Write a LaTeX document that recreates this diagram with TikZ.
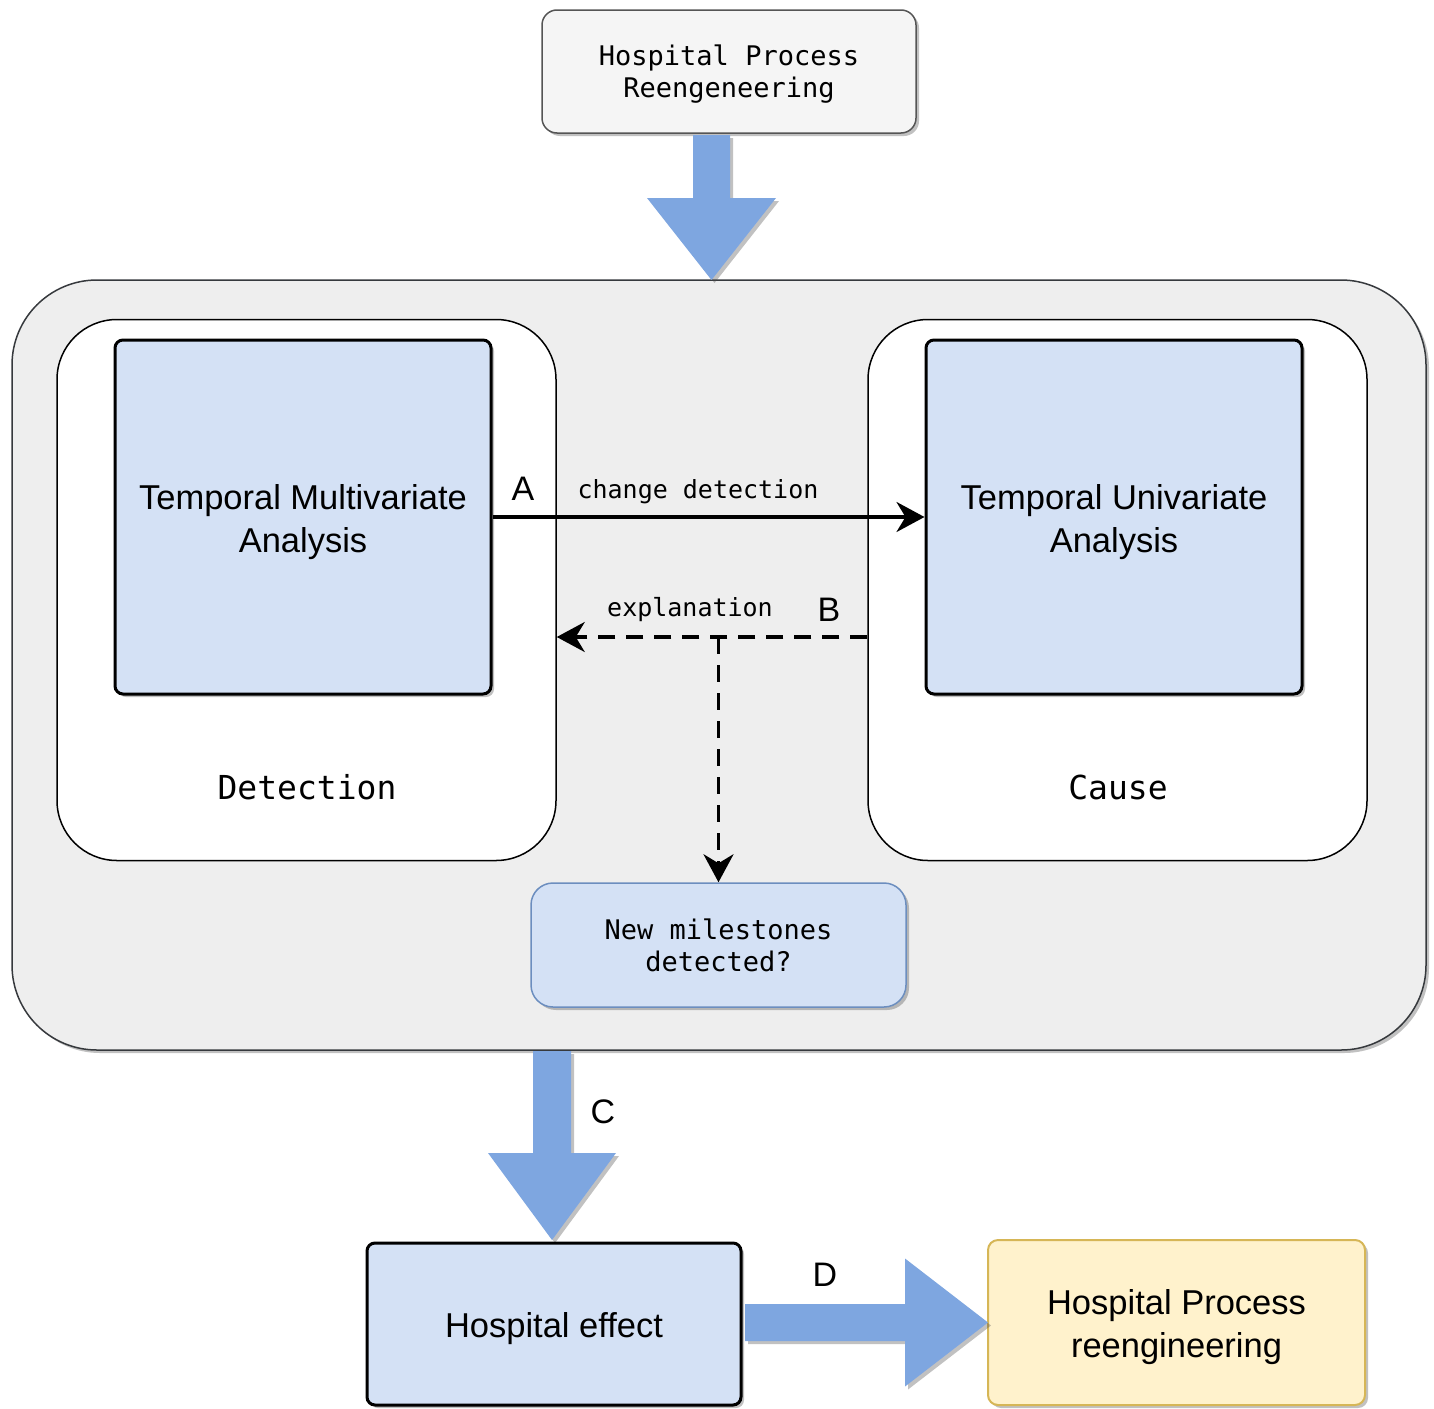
\documentclass[tikz,border=0pt]{standalone}
\usepackage{fontspec}
\setmainfont{Liberation Sans}
\newfontfamily\monof{DejaVu Sans Mono}
\usetikzlibrary{arrows.meta,shadows,calc}
\definecolor{bluefill}{HTML}{D4E1F5}
\definecolor{arrowblue}{HTML}{7EA6E0}
\definecolor{outerfill}{HTML}{EEEEEE}
\definecolor{outerline}{HTML}{36393D}
\definecolor{topfill}{HTML}{F5F5F5}
\definecolor{topline}{HTML}{555555}
\definecolor{nmborder}{HTML}{6C8EBF}
\definecolor{yfill}{HTML}{FFF2CC}
\definecolor{yborder}{HTML}{D6B656}
\begin{document}
\begin{tikzpicture}[x=1pt,y=-1pt,
  shad/.style={drop shadow={shadow xshift=3pt,shadow yshift=-3pt,opacity=0.35,fill=black!70}},
  bigtext/.style={font=\fontsize{34.5}{43}\selectfont,align=center,inner sep=0pt},
  montext/.style={font=\monof\fontsize{27}{32}\selectfont,align=center},
  lab/.style={font=\fontsize{34}{40}\selectfont,inner sep=0pt},
  smallmono/.style={font=\monof\fontsize{25}{30}\selectfont,inner sep=0pt},
  bluebox/.style={draw=black,line width=3pt,fill=bluefill,rounded corners=8pt,shad,inner sep=0pt},
  inbox/.style={draw=black,line width=1.5pt,fill=white,rounded corners=60pt,inner sep=0pt},
  blockarrow/.style={fill=arrowblue,draw=none,shad},
  flow/.style={line width=3.5pt,-{Stealth[length=28pt,width=30pt,inset=9pt]}},
  dflow/.style={line width=3.5pt,dash pattern=on 17pt off 11pt,-{Stealth[length=28pt,width=30pt,inset=9pt]}}
]
\useasboundingbox (0,0) rectangle (1434,1408);

% top box
\node[draw=topline,line width=1.5pt,fill=topfill,rounded corners=15pt,shad,
      minimum width=374pt,minimum height=123pt,inner sep=0pt,
      label={[montext,yshift=-3pt]center:{Hospital Process\\Reengeneering}}]
      (top) at (729,71.5) {};

% outer container
\node[draw=outerline,line width=1.5pt,fill=outerfill,rounded corners=85pt,shad,
      minimum width=1414pt,minimum height=770pt,inner sep=0pt] (outer) at (719,665) {};

% top block arrow
\coordinate (a1s) at (711.5,135);
\coordinate (a1t) at (711.5,280);
\path[blockarrow] ($(a1s)+(-18.5,0)$) -- ($(a1s)+(18.5,0)$) -- ($(a1t)+(18.5,-82)$)
   -- ($(a1t)+(64.5,-82)$) -- (a1t) -- ($(a1t)+(-64.5,-82)$) -- ($(a1t)+(-18.5,-82)$) -- cycle;

% inner containers
\node[inbox,minimum width=499pt,minimum height=541pt] (li) at (306.5,590) {};
\node[inbox,minimum width=499pt,minimum height=541pt] (ri) at (1117.5,590) {};

% analysis boxes
\node[bluebox,minimum width=376pt,minimum height=354pt,
      label={[bigtext,yshift=-5pt]center:{Temporal Multivariate\\Analysis}}] (tma) at (303,517) {};
\node[bluebox,minimum width=376pt,minimum height=354pt,
      label={[bigtext,yshift=-5pt]center:{Temporal Univariate\\Analysis}}] (tua) at (1114,517) {};

\node[font=\monof\fontsize{33}{38}\selectfont,inner sep=0pt] (det) at (307,787) {Detection};
\node[font=\monof\fontsize{33}{38}\selectfont,inner sep=0pt] (cau) at (1118,787) {Cause};

% new milestones
\node[draw=nmborder,line width=1.5pt,fill=bluefill,rounded corners=22pt,shad,
      minimum width=375pt,minimum height=124pt,inner sep=0pt,montext]
      (nm) at (718.5,945) {New milestones\\detected?};

% arrow A
\draw[flow] (tma.east) -- (tua.west);
\node[lab] (la) at (523,489) {A};
\node[smallmono] (lcd) at (698,492) {change detection};

% arrow B
\coordinate (bs) at ($(ri.west)+(0,47)$);
\coordinate (be) at ($(li.east)+(0,47)$);
\coordinate (bj) at (nm.north |- bs);
\draw[dflow] (bs) -- (be);
\draw[dflow] (bj) -- (nm.north);
\node[smallmono] (lex) at (690,610) {explanation};
\node[lab] (lb) at (829,610) {B};

% arrow C
\coordinate (acs) at (552,1051);
\coordinate (act) at (552,1240);
\path[blockarrow] ($(acs)+(-19,0)$) -- ($(acs)+(19,0)$) -- ($(act)+(19,-87)$)
   -- ($(act)+(64,-87)$) -- (act) -- ($(act)+(-64,-87)$) -- ($(act)+(-19,-87)$) -- cycle;
\node[lab] (lc) at (603,1112) {C};

% bottom boxes
\node[bluebox,minimum width=374pt,minimum height=162pt,
      label={[bigtext,yshift=-5pt]center:Hospital effect}] (he) at (554,1324) {};
\node[draw=yborder,line width=2pt,fill=yfill,rounded corners=10pt,shad,inner sep=0pt,
      minimum width=377pt,minimum height=165pt,
      label={[bigtext,yshift=-5pt]center:{Hospital Process\\reengineering}}] (hpr) at (1176.5,1322.5) {};

% arrow D
\coordinate (ads) at (745,1322.5);
\coordinate (adt) at (988,1322.5);
\path[blockarrow] ($(ads)+(0,-18.5)$) -- ($(adt)+(-83,-18.5)$) -- ($(adt)+(-83,-64)$)
   -- (adt) -- ($(adt)+(-83,64)$) -- ($(adt)+(-83,18.5)$) -- ($(ads)+(0,18.5)$) -- cycle;
\node[lab] (ld) at (825,1275) {D};

\end{tikzpicture}
\end{document}
